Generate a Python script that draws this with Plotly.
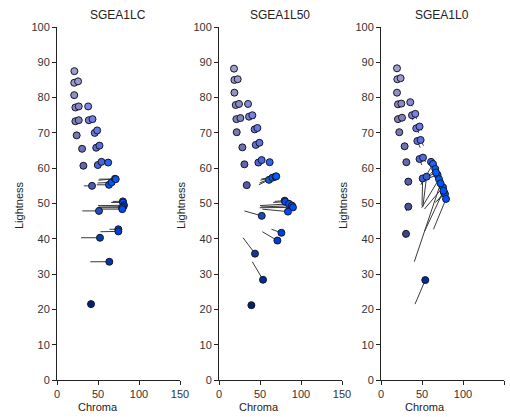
import math
import plotly.graph_objects as go

# ---------------- data ----------------
panel_titles = ["SGEA1LC", "SGEA1L50", "SGEA1L0"]

orig_chroma = [21.2, 21.0, 25.7, 21.0, 22.4, 26.5, 38.0, 22.4, 26.5, 38.8, 43.3, 24.0, 46.0, 49.0,
               30.6, 47.8, 51.8, 32.2, 49.8, 54.3, 62.4,
               32.7, 48.5, 49.5, 50.5, 51.5, 68.0, 66.0, 50.0, 51.0, 49.6, 52.9, 30.9, 64.0, 52.9,
               29.3, 40.6, 41.5]
orig_lightness = [87.5, 84.2, 84.6, 80.7, 77.2, 77.5, 77.5, 73.3, 73.6, 73.6, 73.9, 69.3, 70.0, 70.7,
                  65.5, 65.8, 66.4, 60.7, 60.9, 61.8, 61.6,
                  55.0, 55.3, 55.8, 56.6, 56.9, 50.6, 50.3, 49.4, 49.0, 48.8, 48.4, 47.9, 42.7, 42.0,
                  40.3, 33.5, 21.5]

lc_chroma = [21.2, 21.0, 25.7, 21.0, 22.4, 26.5, 38.0, 22.4, 26.5, 38.8, 43.3, 24.0, 46.0, 49.0,
             30.6, 47.8, 51.8, 32.2, 49.8, 54.3, 62.4,
             42.7, 63.4, 66.7, 70.7, 71.6, 80.3, 80.6, 81.7, 80.8, 79.3, 79.6, 51.2, 74.8, 74.8,
             52.4, 63.8, 41.5]
lc_lightness = [87.5, 84.2, 84.6, 80.7, 77.2, 77.5, 77.5, 73.3, 73.6, 73.6, 73.9, 69.3, 70.0, 70.7,
                65.5, 65.8, 66.4, 60.7, 60.9, 61.8, 61.6,
                55.0, 55.3, 56.0, 57.0, 56.9, 50.6, 50.3, 49.5, 49.1, 48.8, 48.4, 47.9, 42.7, 42.1,
                40.3, 33.5, 21.5]

l50_chroma = [18.3, 18.8, 22.8, 18.8, 20.4, 24.4, 35.4, 21.2, 26.1, 36.6, 40.7, 21.6, 43.5, 46.8,
              28.5, 44.8, 49.3, 31.0, 48.0, 52.0, 61.8,
              33.8, 61.0, 65.1, 68.8, 69.8, 80.1, 80.8, 85.4, 89.0, 90.2, 84.1, 52.1, 76.1, 71.2,
              43.9, 53.7, 39.5]
l50_lightness = [88.2, 85.0, 85.2, 81.4, 77.9, 78.2, 78.2, 73.9, 74.2, 74.6, 75.0, 70.2, 71.0, 71.4,
                 65.9, 66.6, 67.2, 61.1, 61.6, 62.3, 61.7,
                 55.2, 56.7, 57.3, 57.6, 57.7, 50.8, 50.5, 49.9, 49.4, 48.9, 47.7, 46.5, 41.7, 39.5,
                 35.8, 28.4, 21.2]

l0_chroma = [19.5, 19.9, 23.9, 19.5, 20.7, 24.8, 35.7, 20.7, 25.6, 37.8, 41.8, 22.3, 43.0, 47.0,
             28.8, 44.3, 48.3, 30.9, 47.0, 51.2, 61.0,
             33.3, 63.4, 66.2, 69.0, 67.0, 76.8, 78.0, 50.8, 55.6, 70.7, 75.6, 33.3, 79.3, 76.3,
             30.5, 72.7, 54.0]
l0_lightness = [88.3, 85.2, 85.5, 81.4, 78.1, 78.3, 78.7, 73.9, 74.3, 75.0, 75.4, 70.2, 71.3, 71.8,
                66.2, 67.7, 68.0, 61.7, 62.6, 63.0, 61.8,
                56.2, 61.2, 59.8, 58.1, 58.8, 53.1, 52.7, 57.1, 57.6, 56.9, 54.6, 49.1, 51.3, 53.6,
                41.4, 55.7, 28.3]

x_ticks = [0, 50, 100, 150]
y_ticks = [0, 10, 20, 30, 40, 50, 60, 70, 80, 90, 100]

panels = [(lc_chroma, lc_lightness), (l50_chroma, l50_lightness), (l0_chroma, l0_lightness)]


# ---------------- colour from CIELAB (L, C, hue) ----------------
def lab_hex(L, C, hue=293.0, l_scale=0.76, c_scale=1.3):
    L = L * l_scale
    C = C * c_scale
    a = C * math.cos(math.radians(hue))
    b = C * math.sin(math.radians(hue))
    fy = (L + 16) / 116.0
    fx = fy + a / 500.0
    fz = fy - b / 200.0

    def finv(t):
        return t ** 3 if t > 6 / 29 else 3 * (6 / 29) ** 2 * (t - 4 / 29)

    X = 0.95047 * finv(fx)
    Y = 1.0 * finv(fy)
    Z = 1.08883 * finv(fz)
    r = 3.2406 * X - 1.5372 * Y - 0.4986 * Z
    g = -0.9689 * X + 1.8758 * Y + 0.0415 * Z
    bb = 0.0557 * X - 0.2040 * Y + 1.0570 * Z

    def gam(u):
        u = min(max(u, 0.0), 1.0)
        return 12.92 * u if u <= 0.0031308 else 1.055 * u ** (1 / 2.4) - 0.055

    return "#%02x%02x%02x" % tuple(int(round(gam(v) * 255)) for v in (r, g, bb))


# ---------------- figure ----------------
W, H = 510, 417
x_domains = [(57 / W, 180 / W), (219 / W, 342 / W), (381 / W, 504 / W)]
y_domain = (1 - 380 / H, 1 - 27 / H)

fig = go.Figure()
font_family = "Liberation Sans, Arial, sans-serif"

for i, (cx, ly) in enumerate(panels):
    xa = "x" if i == 0 else f"x{i + 1}"
    ya = "y" if i == 0 else f"y{i + 1}"
    seg_x, seg_y = [], []
    for k in range(len(cx)):
        seg_x += [orig_chroma[k], cx[k], None]
        seg_y += [orig_lightness[k], ly[k], None]
    fig.add_trace(go.Scatter(x=seg_x, y=seg_y, mode="lines", xaxis=xa, yaxis=ya,
                             line=dict(color="#3a3a3a", width=1), hoverinfo="skip",
                             showlegend=False))
    colors = [lab_hex(l, c) for c, l in zip(cx, ly)]
    fig.add_trace(go.Scatter(x=cx, y=ly, mode="markers", xaxis=xa, yaxis=ya,
                             marker=dict(size=7, color=colors,
                                         line=dict(color="#15152a", width=1)),
                             showlegend=False))

axis_common = dict(showgrid=False, zeroline=False, showline=True, linecolor="#222",
                   linewidth=1, ticks="outside", ticklen=4, tickcolor="#222",
                   automargin=False,
                   tickfont=dict(family=font_family, size=11, color="#333"))

layout = dict(width=W, height=H, margin=dict(l=0, r=0, t=0, b=0, pad=0, autoexpand=False),
              plot_bgcolor="white", paper_bgcolor="white", showlegend=False)

for i in range(3):
    sx = "" if i == 0 else str(i + 1)
    layout[f"xaxis{sx}"] = dict(axis_common, domain=list(x_domains[i]), range=[0, 150],
                                tickvals=x_ticks, anchor=f"y{sx}")
    layout[f"yaxis{sx}"] = dict(axis_common, domain=list(y_domain), range=[0, 100],
                                tickvals=y_ticks, anchor=f"x{sx}")

fig.update_layout(**layout)

annots = []
title_x = [118, 280, 442]
chroma_x = [98, 259, 425]
light_x = [19, 181, 343]
for i in range(3):
    annots.append(dict(text=panel_titles[i], x=title_x[i] / W, y=1 - 15 / H, xref="paper",
                       yref="paper", showarrow=False, xanchor="center", yanchor="middle",
                       font=dict(family=font_family, size=12, color="#222")))
    annots.append(dict(text="Chroma", x=chroma_x[i] / W, y=1 - 407 / H, xref="paper",
                       yref="paper", showarrow=False, xanchor="center", yanchor="middle",
                       font=dict(family=font_family, size=11, color="#222")))
    annots.append(dict(text="Lightness", x=light_x[i] / W, y=1 - 205 / H, xref="paper",
                       yref="paper", showarrow=False, xanchor="center", yanchor="middle",
                       textangle=-90,
                       font=dict(family=font_family, size=11, color="#222")))
fig.update_layout(annotations=annots)

fig.write_html("out.html")
